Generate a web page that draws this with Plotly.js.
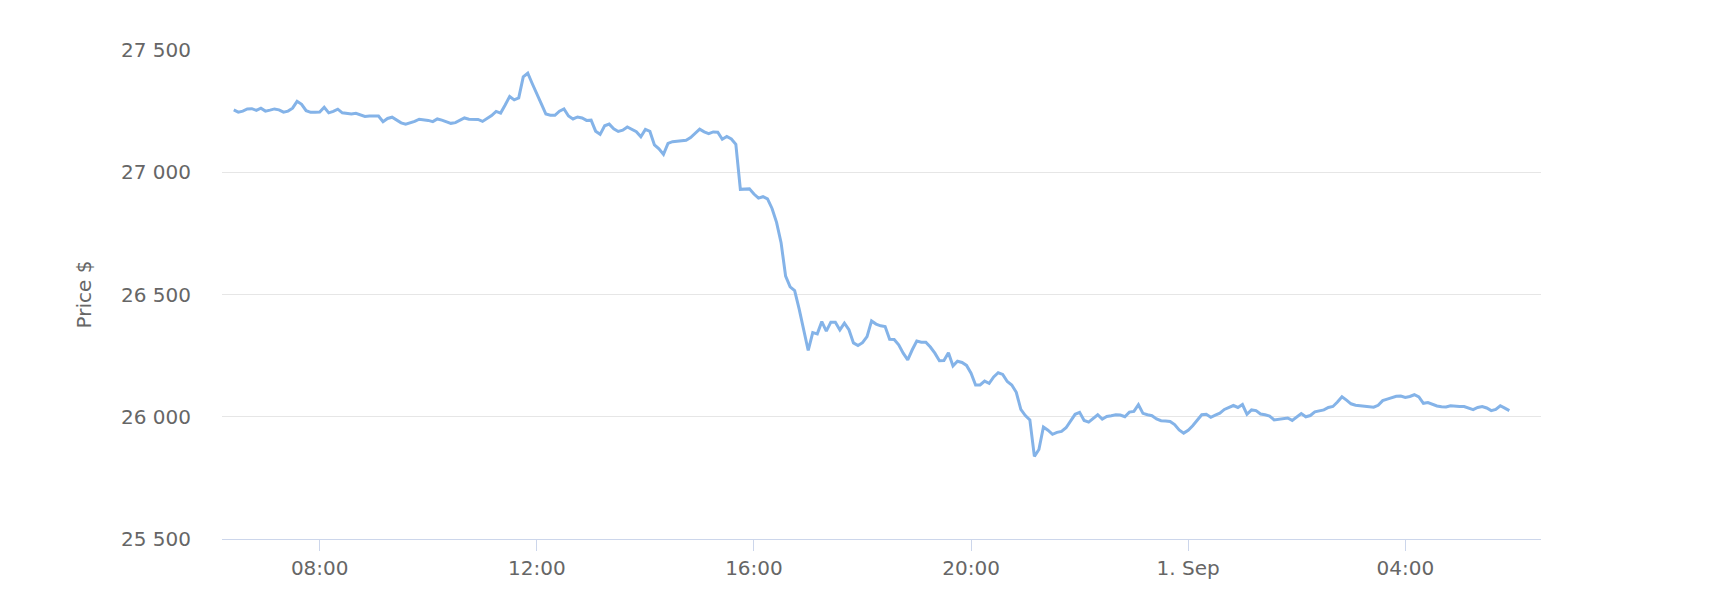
<!DOCTYPE html>
<html>
<head>
<meta charset="utf-8">
<script src="https://cdn.plot.ly/plotly-3.0.1.min.js"></script>
<style>
  html, body { margin: 0; padding: 0; background: #fff; }
  #chart { width: 1709px; height: 599px; }
</style>
</head>
<body>
<div id="chart"></div>
<script>
// BTC price, 5 minute steps from 31 Aug 06:25
const startTime = '2023-08-31T06:25:00';
const stepMinutes = 5;

const prices = [
    27255, 27246, 27250, 27259, 27260, 27253, 27262, 27250, 27254, 27259,
    27255, 27246, 27250, 27262, 27290, 27278, 27252, 27245, 27245, 27246,
    27266, 27243, 27249, 27258, 27243, 27240, 27238, 27241, 27234, 27228,
    27230, 27230, 27230, 27207, 27220, 27225, 27213, 27202, 27197, 27202,
    27208, 27217, 27215, 27212, 27207, 27218, 27213, 27208, 27200, 27203,
    27213, 27222, 27217, 27218, 27216, 27208, 27220, 27232, 27249, 27242,
    27275, 27310, 27296, 27304, 27390, 27405, 27362, 27318, 27280, 27238,
    27233, 27233, 27250, 27259, 27230, 27218, 27226, 27222, 27212, 27213,
    27168, 27155, 27190, 27197, 27178, 27167, 27172, 27185, 27175, 27166,
    27145, 27175, 27167, 27112, 27096, 27073, 27118, 27125, 27127, 27129,
    27131, 27142, 27160, 27176, 27165, 27158, 27165, 27164, 27135, 27146,
    27136, 27114, 26930, 26930, 26932, 26911, 26894, 26900, 26891, 26852,
    26795, 26712, 26575, 26531, 26516, 26440, 26355, 26271, 26344, 26339,
    26389, 26350, 26387, 26387, 26355, 26383, 26356, 26302, 26291, 26303,
    26328, 26392, 26379, 26372, 26369, 26317, 26316, 26294, 26260, 26233,
    26274, 26310, 26305, 26305, 26285, 26260, 26229, 26230, 26262, 26208,
    26227, 26222, 26210, 26178, 26130, 26130, 26146, 26137, 26163, 26180,
    26173, 26144, 26130, 26100, 26030, 26005, 25987, 25838, 25866, 25958,
    25945, 25928, 25936, 25940, 25955, 25985, 26010, 26018, 25985, 25978,
    25995, 26008, 25990, 26001, 26004, 26008, 26007, 26000, 26019, 26022,
    26049, 26014, 26008, 26004, 25991, 25984, 25983, 25981, 25968, 25946,
    25933, 25945, 25963, 25985, 26008, 26010, 25998, 26007, 26015, 26030,
    26038, 26046, 26038, 26050, 26010, 26028, 26025, 26011, 26008, 26003,
    25987, 25990, 25990, 25995, 25985, 26000, 26013, 26000, 26005, 26020,
    26025, 26028, 26038, 26042, 26060, 26082, 26068, 26053, 26047, 26045,
    26042, 26041, 26039, 26047, 26066, 26072, 26077, 26084, 26085, 26079,
    26083, 26090, 26081, 26055, 26058, 26050, 26044, 26041, 26040, 26045,
    26042, 26042, 26042, 26035, 26029, 26038, 26042, 26036, 26025, 26030,
    26045, 26035, 26025
];

const tickTimes = ['2023-08-31 08:00', '2023-08-31 12:00', '2023-08-31 16:00',
                   '2023-08-31 20:00', '2023-09-01 00:00', '2023-09-01 04:00'];
const tickLabels = ['08:00', '12:00', '16:00', '20:00', '1. Sep', '04:00'];
const priceTicks = [25500, 26000, 26500, 27000, 27500];

function pad(n) {
    return (n < 10 ? '0' : '') + n;
}

function make_times(start, step, count) {
    let t0 = Date.parse(start + 'Z');
    let result = [];
    for (let i = 0; i < count; ++i) {
        let d = new Date(t0 + i * step * 60000);
        result.push(d.getUTCFullYear() + '-' + pad(d.getUTCMonth() + 1) + '-' + pad(d.getUTCDate()) +
            ' ' + pad(d.getUTCHours()) + ':' + pad(d.getUTCMinutes()));
    }
    return result;
}

const times = make_times(startTime, stepMinutes, prices.length);

const font = {family: '"DejaVu Sans", Verdana, sans-serif', size: 20, color: '#666666'};

let trace = {
    x: times,
    y: prices,
    type: 'scatter',
    mode: 'lines',
    line: {color: '#84b3e8', width: 3},
    hoverinfo: 'x+y',
};

let layout = {
    width: 1709,
    height: 599,
    margin: {l: 222, r: 168, t: 50, b: 60},
    paper_bgcolor: '#ffffff',
    plot_bgcolor: '#ffffff',
    showlegend: false,
    separators: '. ',
    font: font,
    xaxis: {
        type: 'date',
        range: ['2023-08-31 06:12', '2023-09-01 06:30'],
        tickvals: tickTimes,
        ticktext: tickLabels,
        showgrid: false,
        zeroline: false,
        showline: true,
        linecolor: '#ccd6eb',
        linewidth: 1,
        ticks: 'outside',
        ticklen: 11,
        tickcolor: '#ccd6eb',
        tickfont: font,
    },
    yaxis: {
        range: [25500, 27500],
        tickvals: priceTicks,
        tickformat: ',d',
        showgrid: true,
        gridcolor: '#e6e6e6',
        gridwidth: 1,
        zeroline: false,
        showline: false,
        ticks: '',
        ticklabelstandoff: 30,
        tickfont: font,
        title: {text: 'Price $', font: font, standoff: 24},
    },
};

Plotly.newPlot('chart', [trace], layout, {displayModeBar: false, staticPlot: true});
</script>
</body>
</html>
